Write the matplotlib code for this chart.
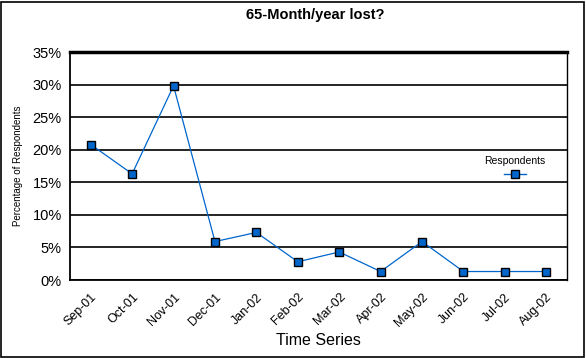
import matplotlib
matplotlib.use("Agg")
import matplotlib.pyplot as plt
from matplotlib.lines import Line2D
from matplotlib.patches import Rectangle
from matplotlib.ticker import FuncFormatter, MultipleLocator

plt.rcParams['font.family'] = ['Liberation Sans', 'DejaVu Sans']

categories = ["Sep-01", "Oct-01", "Nov-01", "Dec-01", "Jan-02", "Feb-02",
              "Mar-02", "Apr-02", "May-02", "Jun-02", "Jul-02", "Aug-02"]
respondents = [20.8, 16.3, 29.8, 5.9, 7.3, 2.8, 4.3, 1.3, 5.9, 1.3, 1.3, 1.3]

W, H = 586, 358
fig = plt.figure(figsize=(W/100, H/100), dpi=100)
ax = fig.add_axes([70/W, 1-280/H, (567-70)/W, (280-52)/H])

line_color = "#0066CC"
x = list(range(len(categories)))
ax.plot(x, respondents, color=line_color, lw=0.9, marker='s', ms=6,
        mfc=line_color, mec='black', mew=1.0, zorder=3)

ax.set_xlim(-0.5, len(categories) - 0.5)
ax.set_ylim(0, 35)
ax.yaxis.set_major_locator(MultipleLocator(5))
ax.yaxis.set_major_formatter(FuncFormatter(lambda v, p: f"{int(round(v))}%"))
ax.grid(axis='y', color='black', lw=1.2)
ax.set_axisbelow(True)
ax.set_xticks(x)
ax.set_xticklabels(categories, rotation=45, ha='right', rotation_mode='anchor', fontsize=9)
ax.tick_params(axis='x', length=0, pad=8)
ax.tick_params(axis='y', length=0, pad=6, labelsize=10.5)

for s in ['left', 'bottom']:
    ax.spines[s].set_linewidth(1.3)
ax.spines['top'].set_linewidth(2.5)
ax.spines['right'].set_linewidth(1.0)

fig.text(18/W, 1-166/H, "Percentage of Respondents", rotation=90,
         ha='center', va='center', fontsize=7)
ax.set_xlabel("Time Series", fontsize=11.5, labelpad=3)
fig.text(315/W, 1-15/H, "65-Month/year lost?", ha='center', va='center',
         fontsize=10.5, fontweight='bold')

# legend
fig.text(515/W, 1-161/H, "Respondents", ha='center', va='center', fontsize=7.5)
fig.add_artist(Line2D([504/W, 526/W], [1-174/H, 1-174/H], color=line_color, lw=1.0,
                      transform=fig.transFigure))
fig.add_artist(Line2D([515/W], [1-174/H], color=line_color, marker='s', ms=6,
                      mfc=line_color, mec='black', mew=1.0, transform=fig.transFigure))

# figure border
fig.add_artist(Rectangle((1/W, 1/H), (W-3)/W, (H-3)/H, transform=fig.transFigure,
                         fill=False, edgecolor='black', lw=1.2))

fig.savefig("out.png", dpi=100)
